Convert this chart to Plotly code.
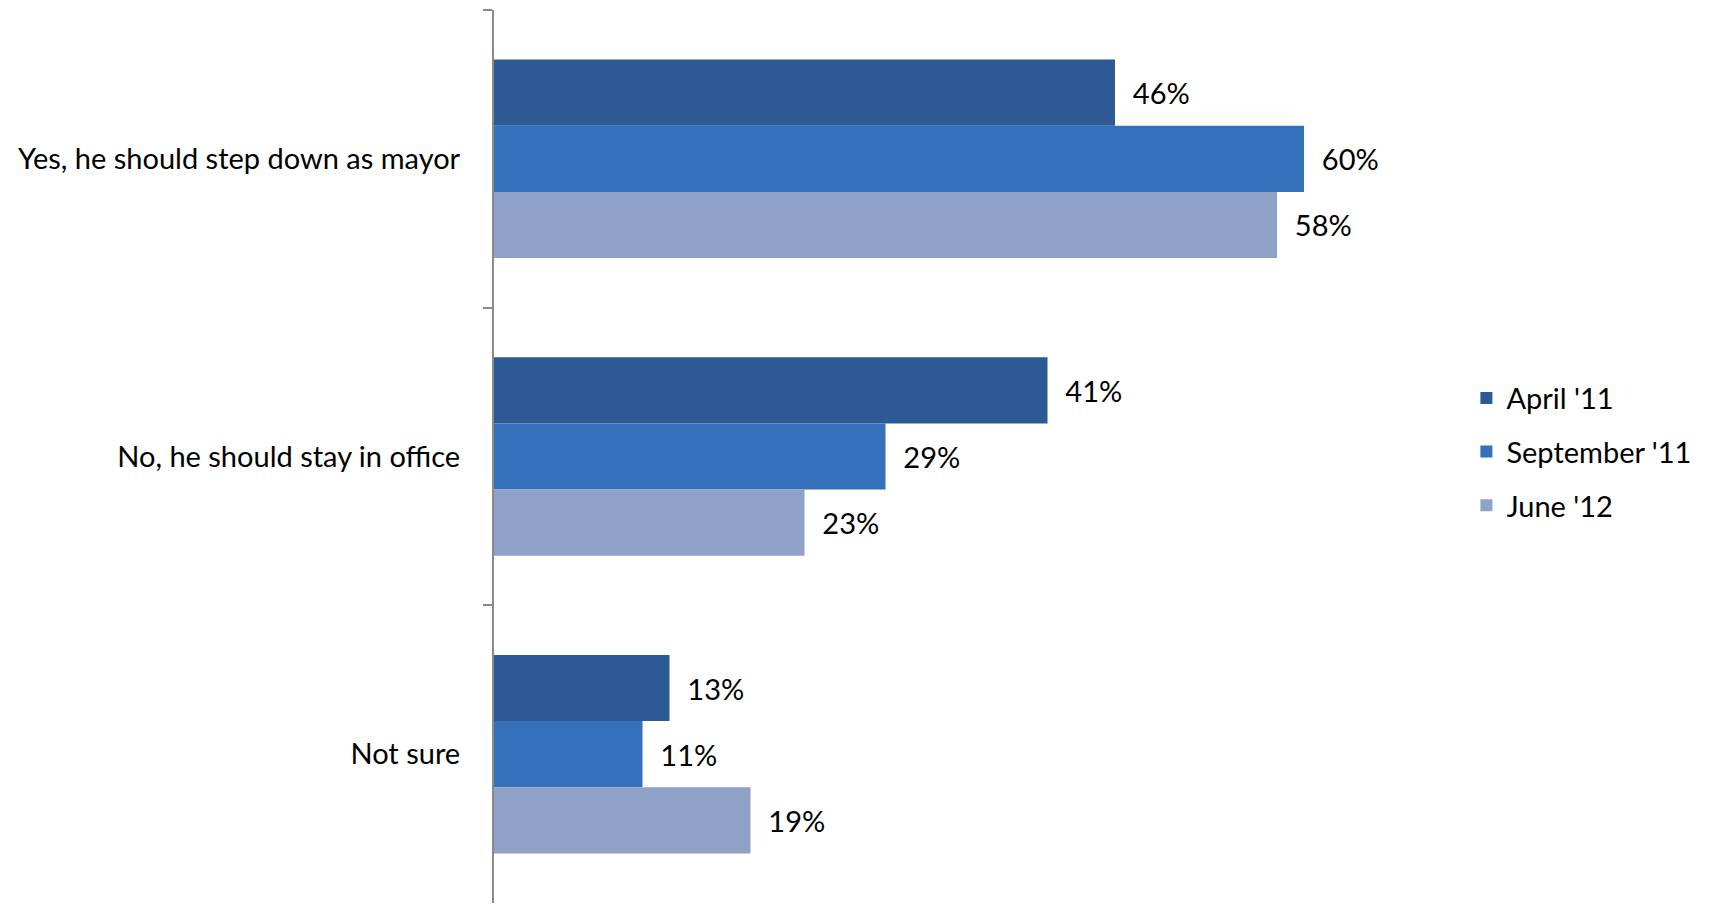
import plotly.graph_objects as go

categories = ["Yes, he should step down as mayor", "No, he should stay in office", "Not sure"]
series_names = ["April '11", "September '11", "June '12"]
april = [0.46, 0.41, 0.13]
september = [0.60, 0.29, 0.11]
june = [0.58, 0.23, 0.19]
colors = ["#2b5a94", "#3570ba", "#8fa1c6"]

fig = go.Figure()
for i, (name, vals) in enumerate(zip(series_names, [april, september, june])):
    fig.add_trace(go.Bar(
        y=categories, x=vals, name=name, orientation="h",
        marker=dict(color=colors[i], line=dict(width=0)),
        texttemplate="\u00a0\u00a0%{x:.0%}", textposition="outside",
        textfont=dict(size=29, color="black"), cliponaxis=False,
        legendgroup=name,
    ))

fig.update_layout(
    width=1709, height=904,
    margin=dict(l=486, r=278, t=2, b=9),
    barmode="group", bargap=1/3, bargroupgap=0,
    plot_bgcolor="white", paper_bgcolor="white",
    font=dict(family="Lato", size=29, color="black"),
    showlegend=True,
    legend=dict(x=1.029, y=0.505, xanchor="left", yanchor="middle",
                traceorder="grouped", tracegroupgap=13,
                font=dict(size=29), itemwidth=30),
)
fig.update_xaxes(range=[0, 0.7], showgrid=False, showticklabels=False, zeroline=False, showline=False)
fig.update_yaxes(autorange="reversed", showgrid=False, showline=True, linecolor="#8a8a8a", linewidth=2,
                 ticks="outside", tickson="boundaries", ticklen=9, tickcolor="#8a8a8a", tickwidth=2,
                 ticklabelstandoff=26, tickfont=dict(size=29))

fig.write_html("out.html")
